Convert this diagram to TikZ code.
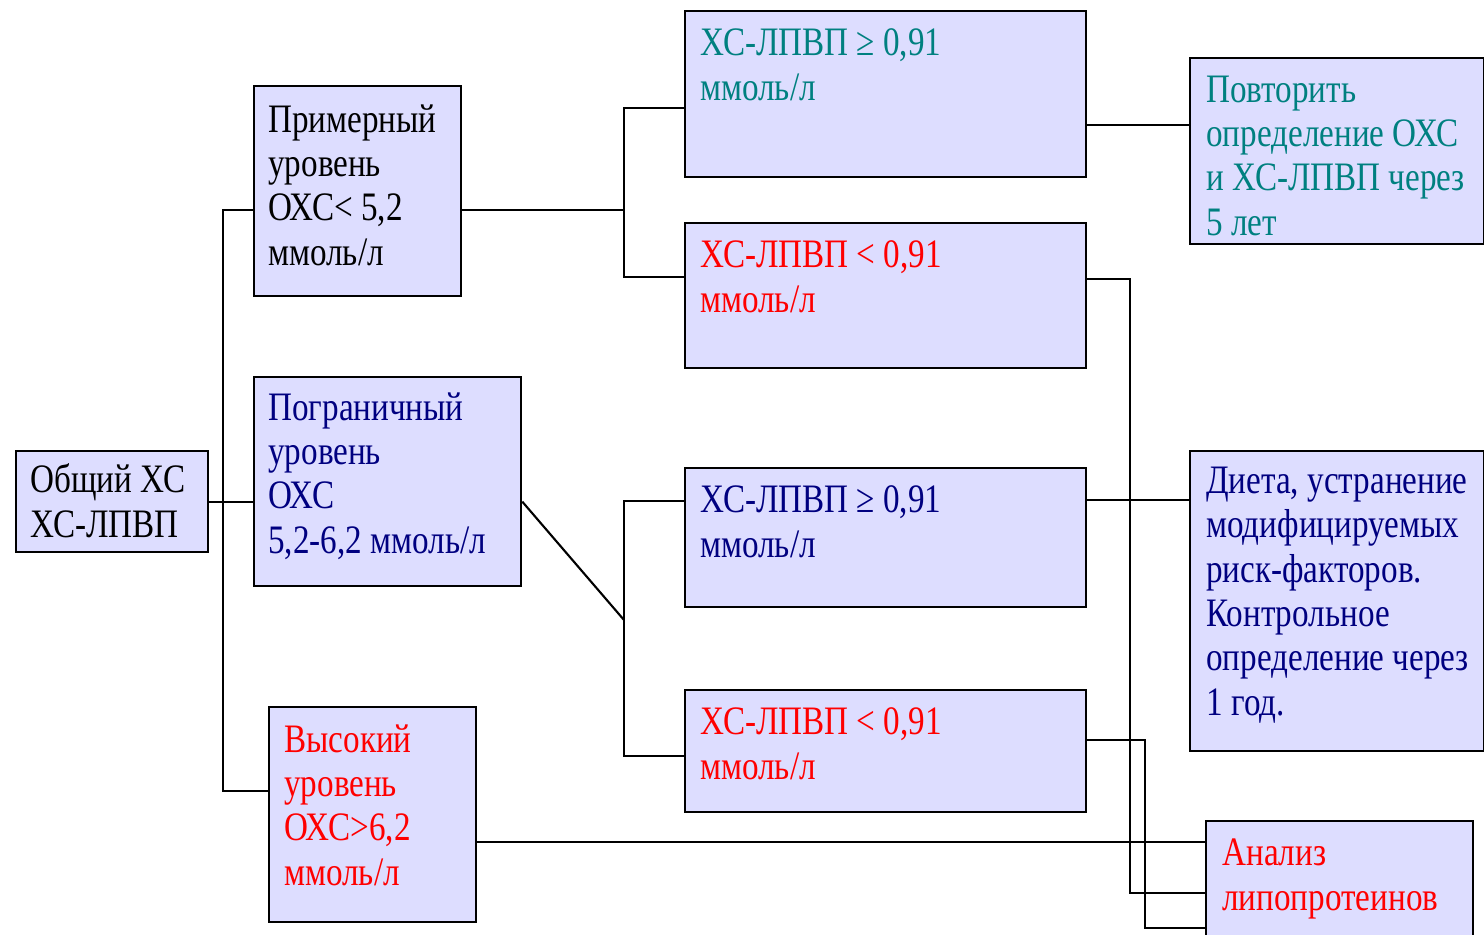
\documentclass[tikz,border=0pt]{standalone}
\usepackage{fontspec}
\setmainfont{Liberation Serif}[FakeStretch=0.82]
\usepackage{xcolor}
\definecolor{boxfill}{RGB}{221,221,255}
\definecolor{tealtxt}{RGB}{0,128,128}
\definecolor{navytxt}{RGB}{0,0,128}
\definecolor{redtxt}{RGB}{255,0,0}
\tikzset{
    box/.style ={rectangle, draw=black, line width=1.3pt, fill=boxfill, inner sep=0pt, anchor=north west},
    sz/.style 2 args ={minimum width=#1*0.02cm, minimum height=#2*0.02cm},
    txt/.style ={inner sep=0pt, anchor=base west, align=left, font=\fontsize{23}{25.2}\selectfont},
    wire/.style ={draw=black, line width=1.2pt}
}

\begin{document}
\begin{tikzpicture}[x=0.02cm,y=-0.02cm]
        \useasboundingbox (0,0) rectangle (1484,934);
        \clip (0,0) rectangle (1484,934);
        % boxes
        \node[box,sz={192}{101}] (obsh) at (15,450) {};
        \node[box,sz={207}{210}] (prim) at (253,85) {};
        \node[box,sz={267}{209}] (pogr) at (253,376) {};
        \node[box,sz={207}{215}] (vys) at (268,706) {};
        \node[box,sz={401}{166}] (hdlA) at (684,10) {};
        \node[box,sz={401}{145}] (hdlB) at (684,222) {};
        \node[box,sz={401}{139}] (hdlC) at (684,467) {};
        \node[box,sz={401}{122}] (hdlD) at (684,689) {};
        \node[box,sz={294}{186}] (povt) at (1189,57) {};
        \node[box,sz={294}{300}] (diet) at (1189,450) {};
        \node[box,sz={267}{130}] (anal) at (1205,820) {};
        % texts (anchored at the last line)
        \node[txt] (tObsh) at ([shift={(15,87)}]obsh.north west) {Общий ХС\\ХС-ЛПВП};
        \node[txt] (tPrim) at ([shift={(15,180)}]prim.north west) {Примерный\\уровень\\ОХС< 5,2\\ммоль/л};
        \node[txt,text=navytxt] (tPogr) at ([shift={(15,177)}]pogr.north west) {Пограничный\\уровень\\ОХС\\5,2-6,2 ммоль/л};
        \node[txt,text=redtxt] (tVys) at ([shift={(16,179)}]vys.north west) {Высокий\\уровень\\ОХС>6,2\\ммоль/л};
        \node[txt,text=tealtxt] (tHdlA) at ([shift={(16,90)}]hdlA.north west) {ХС-ЛПВП ≥ 0,91\\ммоль/л};
        \node[txt,text=redtxt] (tHdlB) at ([shift={(16,90)}]hdlB.north west) {ХС-ЛПВП < 0,91\\ммоль/л};
        \node[txt,text=navytxt] (tHdlC) at ([shift={(16,90)}]hdlC.north west) {ХС-ЛПВП ≥ 0,91\\ммоль/л};
        \node[txt,text=redtxt] (tHdlD) at ([shift={(16,90)}]hdlD.north west) {ХС-ЛПВП < 0,91\\ммоль/л};
        \node[txt,text=tealtxt] (tPovt) at ([shift={(17,178)}]povt.north west) {Повторить\\определение ОХС\\и ХС-ЛПВП через\\5 лет};
        \node[txt,text=navytxt] (tDiet) at ([shift={(17,265)}]diet.north west) {Диета, устранение\\модифицируемых\\риск-факторов.\\Контрольное\\определение через\\1 год.};
        \node[txt,text=redtxt] (tAnal) at ([shift={(17,90)}]anal.north west) {Анализ\\липопротеинов};
        % junctions
        \coordinate (jL) at (223,210);
        \coordinate (jLb) at (223,791);
        \coordinate (jM) at (624,108);
        \coordinate (jMb) at (624,277);
        \coordinate (jD) at (624,620);
        \coordinate (jN) at (624,501);
        \coordinate (jNb) at (624,756);
        \coordinate (yA) at (0,125);
        \coordinate (yC) at (0,500);
        \coordinate (yV) at (0,842);
        \coordinate (jR) at (1130,279);
        \coordinate (jRb) at (1130,893);
        \coordinate (jS) at (1145,740);
        \coordinate (jSb) at (1145,928);
        % connectors
        \draw[wire] (obsh.east) -- (obsh.east -| pogr.west);
        \draw[wire] (jL -| prim.west) -- (jL) -- (jLb) -- (jLb -| vys.west);
        \draw[wire] (jL -| prim.east) -- (jL -| jM);
        \draw[wire] (jM -| hdlA.west) -- (jM) -- (jMb) -- (jMb -| hdlB.west);
        \draw[wire] (pogr.east |- obsh.east) -- (jD);
        \draw[wire] (jN -| hdlC.west) -- (jN) -- (jNb) -- (jNb -| hdlD.west);
        \draw[wire] (yA -| hdlA.east) -- (yA -| povt.west);
        \draw[wire] (yC -| hdlC.east) -- (yC -| diet.west);
        \draw[wire] (jR -| hdlB.east) -- (jR) -- (jRb) -- (jRb -| anal.west);
        \draw[wire] (jS -| hdlD.east) -- (jS) -- (jSb) -- (jSb -| anal.west);
        \draw[wire] (yV -| vys.east) -- (yV -| anal.west);
\end{tikzpicture}
\end{document}
